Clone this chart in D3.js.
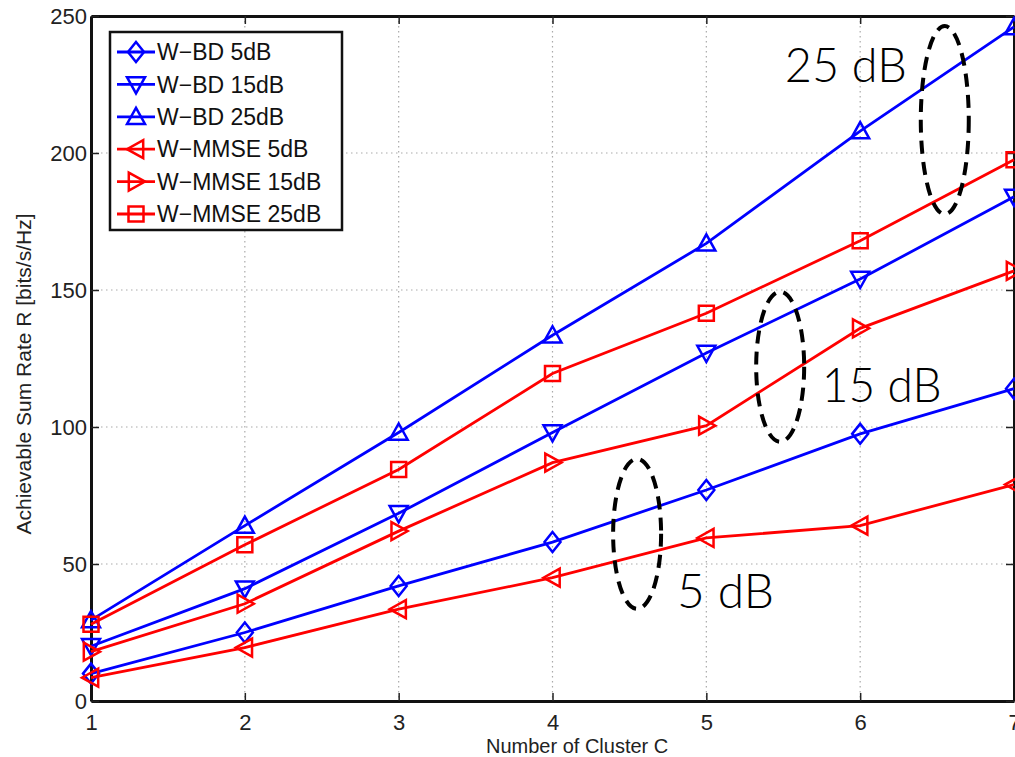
<!DOCTYPE html>
<html>
<head>
<meta charset="utf-8">
<script src="https://cdn.jsdelivr.net/npm/d3@7"></script>
<style>
  body { margin: 0; background: #fff; }
  svg { display: block; }
</style>
</head>
<body>
<div id="chart"></div>
<script>
// cluster counts on the x axis
var clusters = [1, 2, 3, 4, 5, 6, 7];

// achievable sum rate per scheme
var bd5 = [10, 25, 42, 58, 77, 97.5, 114];
var bd15 = [20, 41, 68.5, 98, 127, 154, 184];
var bd25 = [29.5, 64, 98, 133.5, 167, 208, 246];
var mmse5 = [8.5, 19.5, 33.5, 45, 59.5, 64, 79];
var mmse15 = [18, 35.5, 62, 87, 100.5, 136, 157];
var mmse25 = [28, 57, 84.5, 119.5, 141.5, 168, 197.5];

var seriesNames = ["W\u2212BD 5dB", "W\u2212BD 15dB", "W\u2212BD 25dB",
                   "W\u2212MMSE 5dB", "W\u2212MMSE 15dB", "W\u2212MMSE 25dB"];
var yTicks = [0, 50, 100, 150, 200, 250];

// dashed ellipse groups: [x, y] centre in data units
var groupLabels = ["5 dB", "15 dB", "25 dB"];
var groupCentres = [[4.55, 61], [5.48, 122], [6.55, 212]];
var groupText = [[4.81, 34], [5.75, 109], [5.51, 226]];
var groupTextWidth = [97, 120, 122];

var series = [
  {name: seriesNames[0], values: bd5, color: "#0000ff", marker: "diamond"},
  {name: seriesNames[1], values: bd15, color: "#0000ff", marker: "down"},
  {name: seriesNames[2], values: bd25, color: "#0000ff", marker: "up"},
  {name: seriesNames[3], values: mmse5, color: "#ff0000", marker: "left"},
  {name: seriesNames[4], values: mmse15, color: "#ff0000", marker: "right"},
  {name: seriesNames[5], values: mmse25, color: "#ff0000", marker: "square"}
];

var totalWidth = 1015, totalHeight = 757;
var margin = {top: 16, right: 1, bottom: 56, left: 91};
var width = totalWidth - margin.left - margin.right,
    height = totalHeight - margin.top - margin.bottom;

var x = d3.scaleLinear().domain([1, 7]).range([0, width]);
var y = d3.scaleLinear().domain([0, 250]).range([height, 0]);

var svg = d3.select("#chart").append("svg")
    .attr("width", totalWidth)
    .attr("height", totalHeight);

var g = svg.append("g")
    .attr("transform", "translate(" + margin.left + "," + margin.top + ")");

// grid
g.append("g").selectAll("line")
  .data(clusters.slice(1, -1))
  .enter().append("line")
    .attr("x1", function(d) { return x(d); })
    .attr("x2", function(d) { return x(d); })
    .attr("y1", 0).attr("y2", height)
    .attr("stroke", "#aaa").attr("stroke-width", 1.2)
    .attr("stroke-dasharray", "1.5,3.5");

g.append("g").selectAll("line")
  .data(yTicks.slice(1, -1))
  .enter().append("line")
    .attr("y1", function(d) { return y(d); })
    .attr("y2", function(d) { return y(d); })
    .attr("x1", 0).attr("x2", width)
    .attr("stroke", "#aaa").attr("stroke-width", 1.2)
    .attr("stroke-dasharray", "1.5,3.5");

// axes (matlab style ticks point inward)
var xAxis = g.append("g")
    .attr("transform", "translate(0," + height + ")")
    .call(d3.axisBottom(x).tickValues(clusters).tickFormat(d3.format("d"))
      .tickSizeInner(-8).tickSizeOuter(0).tickPadding(13));
var xTop = g.append("g")
    .call(d3.axisTop(x).tickValues(clusters).tickFormat("")
      .tickSizeInner(-8).tickSizeOuter(0));
var yAxis = g.append("g")
    .call(d3.axisLeft(y).tickValues(yTicks)
      .tickSizeInner(-8).tickSizeOuter(0).tickPadding(4));
var yRight = g.append("g")
    .attr("transform", "translate(" + width + ",0)")
    .call(d3.axisRight(y).tickValues(yTicks).tickFormat("")
      .tickSizeInner(-8).tickSizeOuter(0));

[xAxis, xTop, yAxis, yRight].forEach(function(a) {
  a.select(".domain").attr("stroke", "#111").attr("stroke-width", 3);
  a.selectAll(".tick line").attr("stroke", "#222").attr("stroke-width", 1.5);
  a.selectAll(".tick text")
    .attr("fill", "#222")
    .style("font-family", "'Liberation Sans', Arial, sans-serif")
    .style("font-size", "22px");
});
xAxis.selectAll(".tick text").attr("dy", "0.71em");

// axis titles
svg.append("text")
    .attr("x", margin.left + x(4.16))
    .attr("y", 753)
    .attr("text-anchor", "middle")
    .style("font-family", "'Liberation Sans', Arial, sans-serif")
    .style("font-size", "20px")
    .attr("fill", "#222")
    .text("Number of Cluster C");

svg.append("text")
    .attr("transform", "translate(31,374) rotate(-90)")
    .attr("text-anchor", "middle")
    .style("font-family", "'Liberation Sans', Arial, sans-serif")
    .style("font-size", "21px")
    .attr("fill", "#222")
    .text("Achievable Sum Rate R [bits/s/Hz]");

// marker shapes
function markerPath(type) {
  var s = 9;
  switch (type) {
    case "diamond": return "M0,-10L8,0L0,10L-8,0Z";
    case "down": return "M" + -s + "," + -s * 0.8 + "L" + s + "," + -s * 0.8 + "L0," + s + "Z";
    case "up": return "M" + -s + "," + s * 0.8 + "L" + s + "," + s * 0.8 + "L0," + -s + "Z";
    case "left": return "M" + s * 0.8 + "," + -s + "L" + s * 0.8 + "," + s + "L" + -s + ",0Z";
    case "right": return "M" + -s * 0.8 + "," + -s + "L" + -s * 0.8 + "," + s + "L" + s + ",0Z";
    case "square": return "M-7.5,-7.5L7.5,-7.5L7.5,7.5L-7.5,7.5Z";
  }
}

var line = d3.line()
    .x(function(d, i) { return x(clusters[i]); })
    .y(function(d) { return y(d); });

var sg = g.selectAll(".series")
  .data(series)
  .enter().append("g")
    .attr("class", "series");

sg.append("path")
    .attr("d", function(d) { return line(d.values); })
    .attr("fill", "none")
    .attr("stroke", function(d) { return d.color; })
    .attr("stroke-width", 2.8);

sg.each(function(s) {
  d3.select(this).selectAll(".mk")
    .data(s.values)
    .enter().append("path")
      .attr("class", "mk")
      .attr("transform", function(d, i) { return "translate(" + x(clusters[i]) + "," + y(d) + ")"; })
      .attr("d", markerPath(s.marker))
      .attr("fill", "none")
      .attr("stroke", s.color)
      .attr("stroke-width", 2.5);
});

// dashed ellipses + labels
g.append("g").selectAll("ellipse")
  .data(groupCentres)
  .enter().append("ellipse")
    .attr("cx", function(d) { return x(d[0]); })
    .attr("cy", function(d) { return y(d[1]); })
    .attr("rx", 24)
    .attr("ry", function(d, i) { return i === 2 ? 94 : 75; })
    .attr("fill", "none")
    .attr("stroke", "#000")
    .attr("stroke-width", 4)
    .attr("stroke-dasharray", "13,8");

g.append("g").selectAll("text")
  .data(groupText)
  .enter().append("text")
    .attr("x", function(d) { return x(d[0]); })
    .attr("y", function(d) { return y(d[1]); })
    .attr("textLength", function(d, i) { return groupTextWidth[i]; })
    .attr("lengthAdjust", "spacingAndGlyphs")
    .style("font-family", "Lato, 'Open Sans', sans-serif")
    .style("font-weight", 300)
    .style("font-size", "47px")
    .attr("fill", "#000")
    .text(function(d, i) { return groupLabels[i]; });

// legend
var legend = g.append("g").attr("transform", "translate(19,16)");
legend.append("rect")
    .attr("width", 232).attr("height", 198)
    .attr("fill", "#fff")
    .attr("stroke", "#111").attr("stroke-width", 2.5);

var item = legend.selectAll(".item")
  .data(series)
  .enter().append("g")
    .attr("class", "item")
    .attr("transform", function(d, i) { return "translate(0," + (20 + i * 32.4) + ")"; });

item.append("line")
    .attr("x1", 7).attr("x2", 45)
    .attr("stroke", function(d) { return d.color; })
    .attr("stroke-width", 2.8);
item.append("path")
    .attr("transform", "translate(26,0)")
    .attr("d", function(d) { return markerPath(d.marker); })
    .attr("fill", "none")
    .attr("stroke", function(d) { return d.color; })
    .attr("stroke-width", 2.5);
item.append("text")
    .attr("x", 47)
    .attr("dy", "0.36em")
    .style("font-family", "'Liberation Sans', Arial, sans-serif")
    .style("font-size", "23px")
    .attr("fill", "#111")
    .text(function(d) { return d.name; });
</script>
</body>
</html>
